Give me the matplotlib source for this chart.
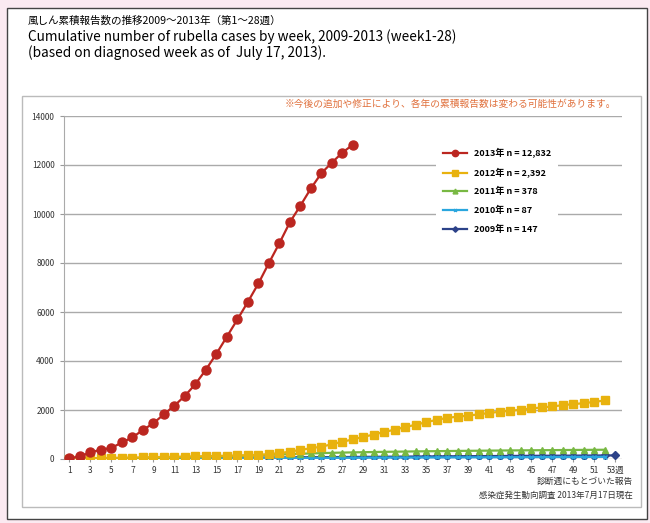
import matplotlib
matplotlib.use("Agg")
import matplotlib.pyplot as plt
from matplotlib.patches import Rectangle

plt.rcParams['font.family'] = ['Noto Sans CJK JP', 'DejaVu Sans']

##########
# Data
##########
weeks_2013 = list(range(1, 29))
cases_2013 = [30, 110, 270, 380, 450, 680, 880, 1190, 1460, 1830,
              2180, 2580, 3060, 3650, 4300, 5000, 5700, 6420, 7170, 8005,
              8815, 9670, 10345, 11050, 11670, 12100, 12508, 12832]

weeks_2012 = list(range(1, 53))
cases_2012 = [10, 20, 30, 38, 45, 55, 60, 68, 75, 85,
              92, 100, 108, 115, 125, 135, 145, 155, 170, 200,
              240, 300, 372, 440, 505, 600, 705, 800, 905, 1000,
              1105, 1200, 1305, 1400, 1505, 1600, 1680, 1730, 1770, 1825,
              1880, 1930, 1970, 2010, 2065, 2105, 2145, 2200, 2240, 2280,
              2330, 2392]

weeks_2011 = list(range(1, 53))
cases_2011 = [4, 8, 12, 16, 20, 25, 30, 36, 42, 50,
              58, 66, 76, 86, 98, 110, 124, 138, 152, 168,
              184, 200, 214, 228, 240, 252, 262, 270, 278, 285,
              292, 298, 304, 310, 315, 320, 325, 330, 334, 338,
              342, 346, 350, 353, 356, 359, 362, 366, 369, 372,
              375, 378]

weeks_2010 = list(range(1, 53))
cases_2010 = [1, 2, 4, 5, 6, 8, 9, 11, 12, 14,
              15, 17, 19, 21, 23, 25, 27, 29, 31, 33,
              35, 37, 39, 41, 43, 45, 47, 49, 51, 53,
              55, 57, 59, 60, 62, 64, 65, 67, 68, 70,
              71, 73, 74, 76, 77, 79, 80, 82, 83, 84,
              86, 87]

weeks_2009 = list(range(1, 54))
cases_2009 = [3, 6, 9, 12, 15, 18, 21, 24, 27, 30,
              33, 36, 39, 42, 45, 48, 51, 54, 57, 60,
              63, 66, 69, 72, 75, 78, 81, 84, 87, 90,
              93, 96, 99, 102, 105, 108, 110, 113, 115, 118,
              120, 123, 125, 128, 130, 132, 134, 136, 138, 140,
              142, 145, 147]

legend_labels = ['2013年 n = 12,832', '2012年 n = 2,392', '2011年 n = 378',
                 '2010年 n = 87', '2009年 n = 147']
xtick_weeks = list(range(1, 54, 2))
xtick_labels = [str(w) for w in xtick_weeks[:-1]] + ['53週']
ytick_values = list(range(0, 14001, 2000))

title_lines = ['風しん累積報告数の推移2009～2013年（第1～28週）',
               'Cumulative number of rubella cases by week, 2009-2013 (week1-28)',
               '(based on diagnosed week as of  July 17, 2013).']
note_text = '※今後の追加や修正により、各年の累積報告数は変わる可能性があります。'
source_lines = ['診断週にもとづいた報告', '感染症発生動向調査 2013年7月17日現在']

##########
# Figure
##########
W, H = 650, 523
fig = plt.figure(figsize=(6.5, 5.23), dpi=100)
fig.patch.set_facecolor('#fbeaf1')

def fx(px):
    return px / W

def fy(py):
    return 1 - py / H

# outer white panel and inner chart box
fig.patches.append(Rectangle((fx(7), fy(519)), fx(640), 511 / H, transform=fig.transFigure,
                             facecolor='white', edgecolor='#444444', linewidth=1.0, zorder=0))
fig.patches.append(Rectangle((fx(22), fy(507)), fx(619), 411 / H, transform=fig.transFigure,
                             facecolor='white', edgecolor='#bbbbbb', linewidth=1.0, zorder=0))

title_sizes = [7.6, 9.8, 9.8]
for i, line in enumerate(title_lines):
    fig.text(fx(28), fy(21 + i * 16), line, fontsize=title_sizes[i], color='#000000',
             va='center', ha='left')

ax = fig.add_axes([fx(64.25), fy(459), fx(557.5), 343 / H])
ax.set_facecolor('none')
ax.set_zorder(2)

ax.plot(weeks_2009, cases_2009, color='#2c4289', marker='D', markersize=4, linewidth=1.6, label=legend_labels[4], zorder=3)
ax.plot(weeks_2010, cases_2010, color='#2aa6de', marker='x', markersize=3, linewidth=1.6, label=legend_labels[3], zorder=4)
ax.plot(weeks_2011, cases_2011, color='#78b843', marker='^', markersize=5, linewidth=1.6, label=legend_labels[2], zorder=5)
ax.plot(weeks_2012, cases_2012, color='#e8b20e', marker='s', markersize=5.5, linewidth=1.6, label=legend_labels[1], zorder=6)
ax.plot(weeks_2013, cases_2013, color='#bb2620', marker='o', markersize=6.5, linewidth=1.6, label=legend_labels[0], zorder=7)

ax.set_xlim(0.5, 53.6)
ax.set_ylim(0, 14000)
ax.set_xticks(xtick_weeks)
ax.set_xticklabels(xtick_labels, fontsize=6, color='#333333')
ax.set_yticks(ytick_values)
ax.set_yticklabels([str(v) for v in ytick_values], fontsize=6, color='#333333')
ax.tick_params(axis='x', length=2, color='#999999', pad=3)
ax.tick_params(axis='y', length=3, color='#999999', pad=4)
ax.grid(axis='y', color='#aaaaaa', linewidth=1.0)
ax.set_axisbelow(True)
for side in ['top', 'right', 'bottom']:
    ax.spines[side].set_visible(False)
ax.spines['left'].set_color('#aaaaaa')

handles, labels = ax.get_legend_handles_labels()
order = [4, 3, 2, 1, 0]
leg = ax.legend([handles[i] for i in order], [labels[i] for i in order],
                loc='upper left', bbox_to_anchor=(fx(436), fy(141)), bbox_transform=fig.transFigure,
                fontsize=6.5, frameon=True, facecolor='white', edgecolor='none', framealpha=1,
                handlelength=2.6, markerscale=0.7, labelspacing=1.05, borderpad=0.8, borderaxespad=0)
for t in leg.get_texts():
    t.set_fontweight('bold')
leg.set_zorder(10)

fig.text(fx(616), fy(104), note_text, fontsize=7, color='#e0703c', ha='right', va='center')
fig.text(fx(633), fy(481), source_lines[0], fontsize=6.3, color='#333333', ha='right', va='center')
fig.text(fx(633), fy(495), source_lines[1], fontsize=6.1, color='#333333', ha='right', va='center')

fig.savefig('out.png', dpi=100, facecolor=fig.get_facecolor())
